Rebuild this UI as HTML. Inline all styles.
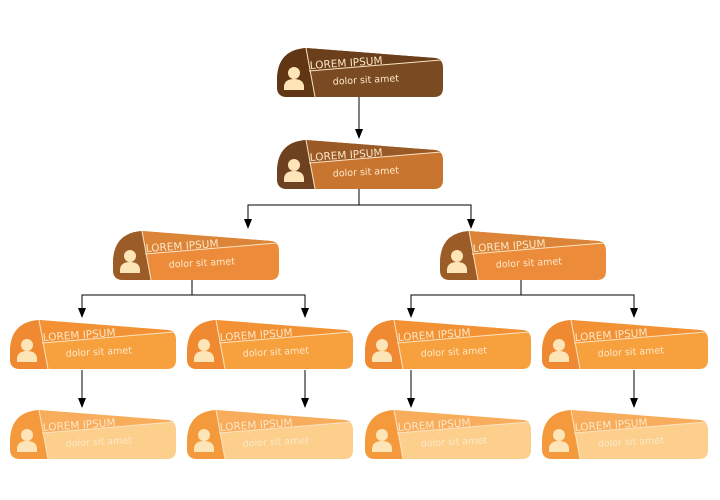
<!DOCTYPE html>
<html><head><meta charset="utf-8"><style>
html,body{margin:0;padding:0;background:#fff;width:720px;height:500px;overflow:hidden}
svg text{font-family:"DejaVu Sans","Liberation Sans",sans-serif}
</style></head><body>
<svg width="720" height="500" viewBox="0 0 720 500" xmlns="http://www.w3.org/2000/svg">
<g stroke="#000" stroke-width="1" fill="none">
<line x1="359" y1="97" x2="359" y2="137"/>
<polyline points="359,189 359,205 248,205 248,221"/>
<polyline points="359,205 471,205 471,221"/>
<polyline points="192,279 192,295 82,295 82,310"/>
<polyline points="192,295 305,295 305,310"/>
<polyline points="521,279 521,295 411,295 411,310"/>
<polyline points="521,295 634,295 634,310"/>
<line x1="82" y1="370" x2="82" y2="400"/>
<line x1="305" y1="370" x2="305" y2="400"/>
<line x1="411" y1="370" x2="411" y2="400"/>
<line x1="634" y1="370" x2="634" y2="400"/>
</g>
<g fill="#000">
<path d="M355,129 L363,129 L359,139 Z"/>
<path d="M244,219 L252,219 L248,229 Z"/>
<path d="M467,219 L475,219 L471,229 Z"/>
<path d="M78,308 L86,308 L82,318 Z"/>
<path d="M301,308 L309,308 L305,318 Z"/>
<path d="M407,308 L415,308 L411,318 Z"/>
<path d="M630,308 L638,308 L634,318 Z"/>
<path d="M78,398 L86,398 L82,408 Z"/>
<path d="M301,398 L309,398 L305,408 Z"/>
<path d="M407,398 L415,398 L411,408 Z"/>
<path d="M630,398 L638,398 L634,408 Z"/>
</g>
<g id="nodes"></g>
</svg>
<script>
var defs=[
 [277,48,'#603614','#6b3f1c','#7a4a22'],
 [277,140,'#6e4220','#9a5a28','#c87530'],
 [113,231,'#9c5c28','#dc8438','#ec8c3a'],
 [440,231,'#9c5c28','#dc8438','#ec8c3a'],
 [10,320,'#ef8a32','#f29234','#f7a03e'],
 [187,320,'#ef8a32','#f29234','#f7a03e'],
 [365,320,'#ef8a32','#f29234','#f7a03e'],
 [542,320,'#ef8a32','#f29234','#f7a03e'],
 [10,410,'#f59a3c','#f8ad5c','#fccf8c'],
 [187,410,'#f59a3c','#f8ad5c','#fccf8c'],
 [365,410,'#f59a3c','#f8ad5c','#fccf8c'],
 [542,410,'#f59a3c','#f8ad5c','#fccf8c']];
var s='';
defs.forEach(function(d){
 var outline='M10,49 Q0,49 0,39 L0,32 Q0,2 29,0 L158,10 Q166,11 166,20 L166,40 Q166,49 157,49 Z';
 s+='<g transform="translate('+d[0]+','+d[1]+')">'+
 '<path d="'+outline+'" fill="'+d[4]+'"/>'+
 '<path d="M29,0 L158,10 Q163,11 164,12 L32,23 Z" fill="'+d[3]+'"/>'+
 '<path d="M10,49 Q0,49 0,39 L0,32 Q0,2 29,0 L38,49 Z" fill="'+d[2]+'"/>'+
 '<line x1="29" y1="0" x2="38" y2="49" stroke="#fbe3c0" stroke-width="1"/>'+
 '<line x1="32" y1="23" x2="164" y2="12" stroke="#fbe3c0" stroke-width="1"/>'+
 '<circle cx="17" cy="25" r="6" fill="#fde5b8"/>'+
 '<path d="M7,42 L7,38 Q8,31 17,31 Q26,31 27,38 L27,42 Z" fill="#fde5b8"/>'+
 '<text x="33" y="21" font-size="10.5" fill="#fde8c8" transform="rotate(-4 33 21)">LOREM IPSUM</text>'+
 '<text x="89" y="35" font-size="9.5" fill="#fde8c8" text-anchor="middle" transform="rotate(-3 89 35)">dolor sit amet</text>'+
 '</g>';
});
document.getElementById('nodes').innerHTML=s;
</script>
</body></html>
